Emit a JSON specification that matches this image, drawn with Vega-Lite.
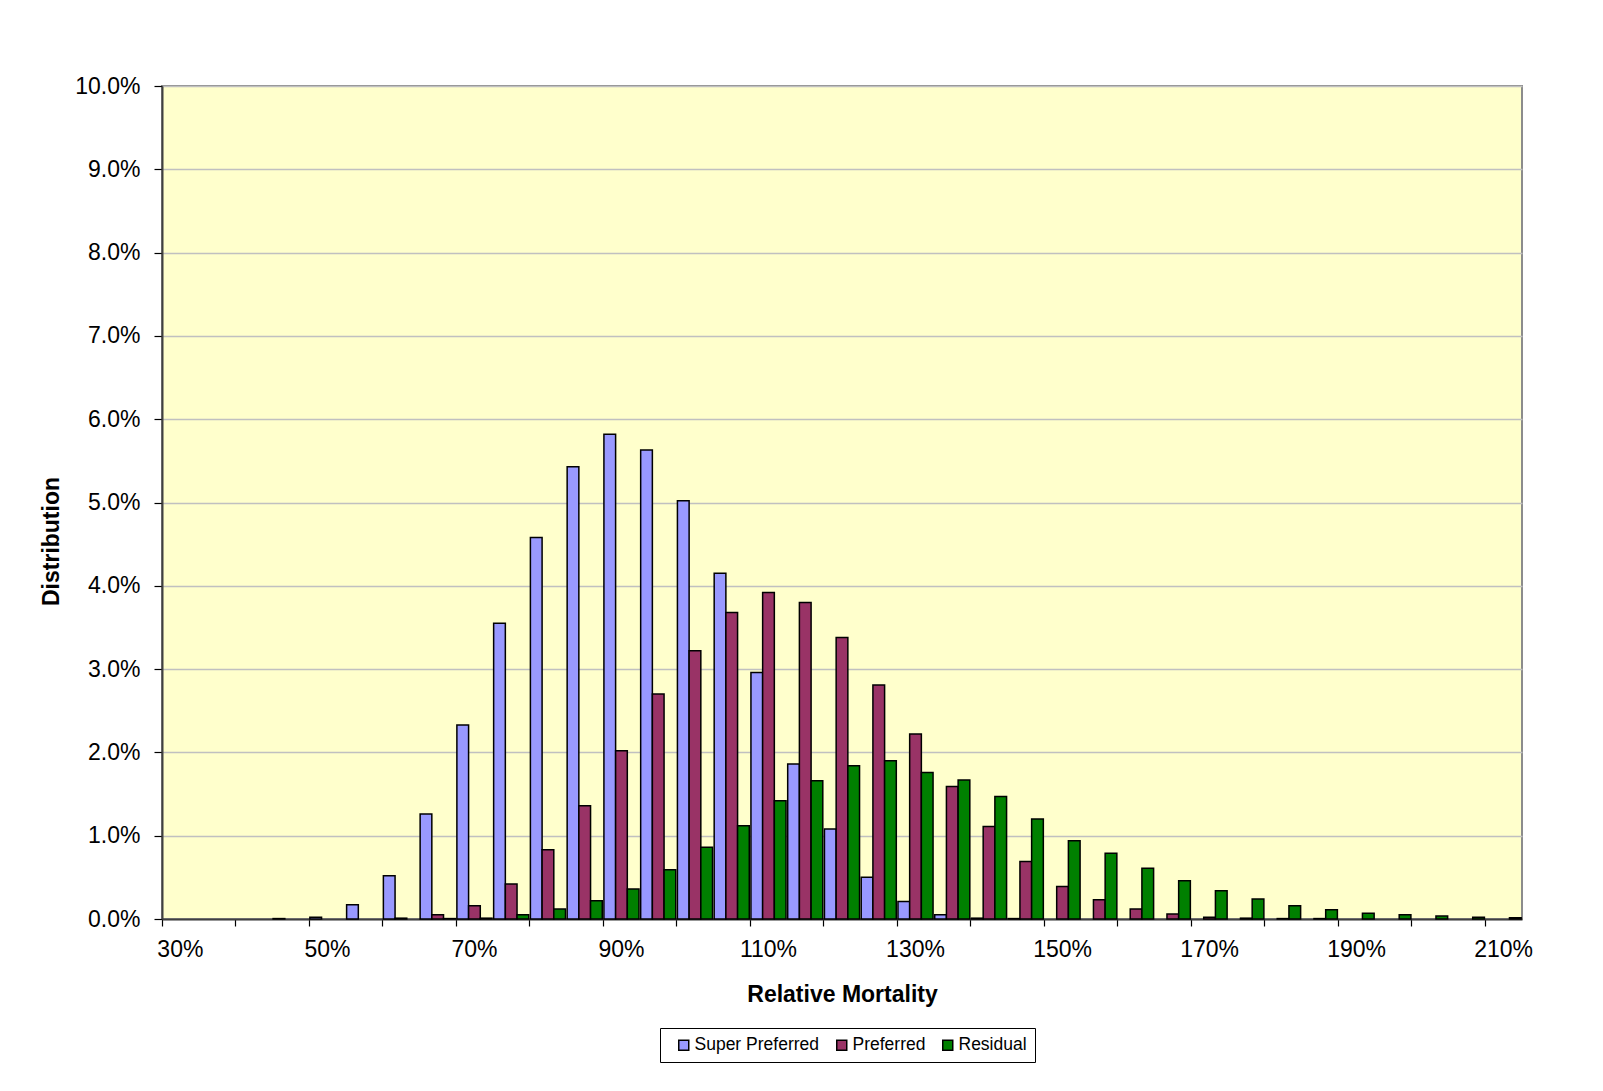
{
  "$schema": "https://vega.github.io/schema/vega-lite/v6.json",
  "width": 1360,
  "height": 833,
  "autosize": {"type": "none"},
  "padding": {"left": 162, "top": 86, "right": 81, "bottom": 172},
  "background": "#FFFFFF",
  "config": {
    "font": "Liberation Sans",
    "view": {"fill": "#FFFFCC", "stroke": "#8C8C8C", "strokeWidth": 2},
    "axis": {
      "labelFont": "Liberation Sans",
      "titleFont": "Liberation Sans",
      "labelColor": "#000000",
      "titleColor": "#000000",
      "labelFontSize": 23,
      "titleFontSize": 23,
      "titleFontWeight": "bold",
      "domainColor": "#404040",
      "domainWidth": 2,
      "tickColor": "#000000",
      "tickWidth": 1.2
    },
    "legend": {"labelFont": "Liberation Sans"}
  },
  "data": {
    "values": [
      {"mortality": 45, "tier": "Super Preferred", "share": 0.00005},
      {"mortality": 50, "tier": "Super Preferred", "share": 0.0002},
      {"mortality": 55, "tier": "Super Preferred", "share": 0.0017},
      {"mortality": 60, "tier": "Super Preferred", "share": 0.0052},
      {"mortality": 65, "tier": "Super Preferred", "share": 0.0126},
      {"mortality": 70, "tier": "Super Preferred", "share": 0.0233},
      {"mortality": 75, "tier": "Super Preferred", "share": 0.0355},
      {"mortality": 80, "tier": "Super Preferred", "share": 0.0458},
      {"mortality": 85, "tier": "Super Preferred", "share": 0.0543},
      {"mortality": 90, "tier": "Super Preferred", "share": 0.0582},
      {"mortality": 95, "tier": "Super Preferred", "share": 0.0563},
      {"mortality": 100, "tier": "Super Preferred", "share": 0.0502},
      {"mortality": 105, "tier": "Super Preferred", "share": 0.0415},
      {"mortality": 110, "tier": "Super Preferred", "share": 0.0296},
      {"mortality": 115, "tier": "Super Preferred", "share": 0.0186},
      {"mortality": 120, "tier": "Super Preferred", "share": 0.0108},
      {"mortality": 125, "tier": "Super Preferred", "share": 0.0050},
      {"mortality": 130, "tier": "Super Preferred", "share": 0.0021},
      {"mortality": 135, "tier": "Super Preferred", "share": 0.0005},
      {"mortality": 140, "tier": "Super Preferred", "share": 0.0001},
      {"mortality": 145, "tier": "Super Preferred", "share": 0.00005},

      {"mortality": 60, "tier": "Preferred", "share": 0.0001},
      {"mortality": 65, "tier": "Preferred", "share": 0.0005},
      {"mortality": 70, "tier": "Preferred", "share": 0.0016},
      {"mortality": 75, "tier": "Preferred", "share": 0.0042},
      {"mortality": 80, "tier": "Preferred", "share": 0.0083},
      {"mortality": 85, "tier": "Preferred", "share": 0.0136},
      {"mortality": 90, "tier": "Preferred", "share": 0.0202},
      {"mortality": 95, "tier": "Preferred", "share": 0.0270},
      {"mortality": 100, "tier": "Preferred", "share": 0.0322},
      {"mortality": 105, "tier": "Preferred", "share": 0.0368},
      {"mortality": 110, "tier": "Preferred", "share": 0.0392},
      {"mortality": 115, "tier": "Preferred", "share": 0.0380},
      {"mortality": 120, "tier": "Preferred", "share": 0.0338},
      {"mortality": 125, "tier": "Preferred", "share": 0.0281},
      {"mortality": 130, "tier": "Preferred", "share": 0.0222},
      {"mortality": 135, "tier": "Preferred", "share": 0.0159},
      {"mortality": 140, "tier": "Preferred", "share": 0.0111},
      {"mortality": 145, "tier": "Preferred", "share": 0.0069},
      {"mortality": 150, "tier": "Preferred", "share": 0.0039},
      {"mortality": 155, "tier": "Preferred", "share": 0.0023},
      {"mortality": 160, "tier": "Preferred", "share": 0.0012},
      {"mortality": 165, "tier": "Preferred", "share": 0.0006},
      {"mortality": 170, "tier": "Preferred", "share": 0.0002},
      {"mortality": 175, "tier": "Preferred", "share": 0.0001},
      {"mortality": 180, "tier": "Preferred", "share": 0.00005},
      {"mortality": 185, "tier": "Preferred", "share": 0.00005},

      {"mortality": 65, "tier": "Residual", "share": 0.00005},
      {"mortality": 70, "tier": "Residual", "share": 0.0001},
      {"mortality": 75, "tier": "Residual", "share": 0.0005},
      {"mortality": 80, "tier": "Residual", "share": 0.0012},
      {"mortality": 85, "tier": "Residual", "share": 0.0022},
      {"mortality": 90, "tier": "Residual", "share": 0.0036},
      {"mortality": 95, "tier": "Residual", "share": 0.0059},
      {"mortality": 100, "tier": "Residual", "share": 0.0086},
      {"mortality": 105, "tier": "Residual", "share": 0.0112},
      {"mortality": 110, "tier": "Residual", "share": 0.0142},
      {"mortality": 115, "tier": "Residual", "share": 0.0166},
      {"mortality": 120, "tier": "Residual", "share": 0.0184},
      {"mortality": 125, "tier": "Residual", "share": 0.0190},
      {"mortality": 130, "tier": "Residual", "share": 0.0176},
      {"mortality": 135, "tier": "Residual", "share": 0.0167},
      {"mortality": 140, "tier": "Residual", "share": 0.0147},
      {"mortality": 145, "tier": "Residual", "share": 0.0120},
      {"mortality": 150, "tier": "Residual", "share": 0.0094},
      {"mortality": 155, "tier": "Residual", "share": 0.0079},
      {"mortality": 160, "tier": "Residual", "share": 0.0061},
      {"mortality": 165, "tier": "Residual", "share": 0.0046},
      {"mortality": 170, "tier": "Residual", "share": 0.0034},
      {"mortality": 175, "tier": "Residual", "share": 0.0024},
      {"mortality": 180, "tier": "Residual", "share": 0.0016},
      {"mortality": 185, "tier": "Residual", "share": 0.0011},
      {"mortality": 190, "tier": "Residual", "share": 0.0007},
      {"mortality": 195, "tier": "Residual", "share": 0.0005},
      {"mortality": 200, "tier": "Residual", "share": 0.00035},
      {"mortality": 205, "tier": "Residual", "share": 0.0002},
      {"mortality": 210, "tier": "Residual", "share": 0.00015}
    ]
  },
  "mark": {"type": "bar", "stroke": "#000000", "strokeWidth": 1.5},
  "encoding": {
    "x": {
      "field": "mortality",
      "type": "ordinal",
      "scale": {
        "domain": [30, 35, 40, 45, 50, 55, 60, 65, 70, 75, 80, 85, 90, 95, 100, 105, 110, 115, 120, 125, 130, 135, 140, 145, 150, 155, 160, 165, 170, 175, 180, 185, 190, 195, 200, 205, 210],
        "paddingInner": 0,
        "paddingOuter": 0
      },
      "axis": {
        "title": "Relative Mortality",
        "values": [30, 40, 50, 60, 70, 80, 90, 100, 110, 120, 130, 140, 150, 160, 170, 180, 190, 200, 210],
        "bandPosition": 0,
        "labelExpr": "datum.value % 20 == 10 ? datum.value + '%' : ''",
        "labelAngle": 0,
        "labelOverlap": false,
        "labelPadding": 12,
        "tickSize": 7,
        "grid": false,
        "titlePadding": 22
      }
    },
    "xOffset": {
      "field": "tier",
      "type": "nominal",
      "scale": {
        "domain": ["Super Preferred", "Preferred", "Residual"],
        "paddingInner": 0,
        "paddingOuter": 0.071
      }
    },
    "y": {
      "field": "share",
      "type": "quantitative",
      "scale": {"domain": [0, 0.1], "nice": false},
      "axis": {
        "title": "Distribution",
        "values": [0, 0.01, 0.02, 0.03, 0.04, 0.05, 0.06, 0.07, 0.08, 0.09, 0.1],
        "format": ".1%",
        "tickSize": 8,
        "labelPadding": 14,
        "grid": true,
        "gridColor": "#C0C0C0",
        "gridWidth": 1.5,
        "titleAngle": -90,
        "titleX": -111,
        "titleY": 455,
        "titleAlign": "center",
        "titleBaseline": "middle"
      }
    },
    "color": {
      "field": "tier",
      "type": "nominal",
      "scale": {
        "domain": ["Super Preferred", "Preferred", "Residual"],
        "range": ["#9999FF", "#993366", "#008000"]
      },
      "legend": {
        "title": null,
        "orient": "none",
        "direction": "horizontal",
        "legendX": 498,
        "legendY": 942,
        "fillColor": "#FFFFFF",
        "strokeColor": "#000000",
        "padding": 8,
        "symbolType": "square",
        "symbolSize": 100,
        "symbolOffset": 7,
        "symbolStrokeColor": "#000000",
        "symbolStrokeWidth": 1.5,
        "symbolOpacity": 1,
        "labelFontSize": 17.5,
        "labelColor": "#000000",
        "labelOffset": 2,
        "columnPadding": 6
      }
    }
  }
}
